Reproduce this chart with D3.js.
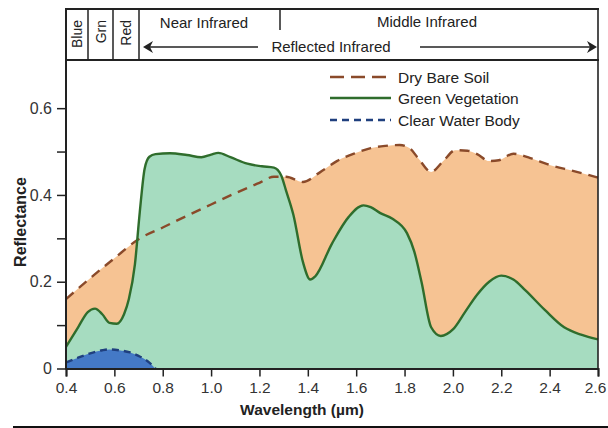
<!DOCTYPE html>
<html>
<head>
<meta charset="utf-8">
<script src="https://cdn.jsdelivr.net/npm/d3@7"></script>
<style>
  html, body { margin: 0; padding: 0; background: #fff; }
  svg { display: block; font-family: "Liberation Sans", Arial, sans-serif; }
</style>
</head>
<body>
<svg id="chart" width="608" height="428"></svg>
<script>
// ---- data ----
const soilX = [0.40,0.50,0.60,0.70,0.80,0.90,1.00,1.10,1.20,1.26,1.31,1.38,1.45,1.52,1.60,1.66,1.72,1.78,1.82,1.86,1.91,1.96,2.01,2.06,2.10,2.15,2.19,2.25,2.32,2.40,2.50,2.60];
const soilY = [0.160,0.208,0.254,0.298,0.325,0.352,0.378,0.404,0.428,0.442,0.442,0.430,0.452,0.478,0.497,0.508,0.513,0.515,0.508,0.482,0.453,0.478,0.503,0.502,0.494,0.478,0.480,0.495,0.485,0.469,0.455,0.440];

const vegX = [0.40,0.45,0.49,0.52,0.55,0.58,0.61,0.64,0.66,0.685,0.705,0.725,0.745,0.77,0.83,0.90,0.96,1.00,1.03,1.08,1.15,1.21,1.26,1.29,1.31,1.34,1.38,1.41,1.43,1.50,1.57,1.63,1.66,1.70,1.75,1.81,1.84,1.87,1.91,1.95,2.00,2.05,2.10,2.15,2.20,2.25,2.30,2.38,2.46,2.53,2.60];
const vegY = [0.050,0.095,0.130,0.138,0.125,0.105,0.103,0.125,0.160,0.240,0.360,0.460,0.488,0.494,0.496,0.492,0.487,0.493,0.497,0.487,0.472,0.466,0.463,0.445,0.410,0.355,0.245,0.205,0.212,0.288,0.350,0.376,0.372,0.358,0.345,0.312,0.270,0.200,0.095,0.075,0.090,0.130,0.170,0.200,0.214,0.205,0.180,0.135,0.095,0.078,0.067];

const waterX = [0.40,0.45,0.50,0.55,0.58,0.62,0.665,0.70,0.735,0.77];
const waterY = [0.014,0.025,0.035,0.042,0.044,0.042,0.037,0.029,0.018,0.0];

const xTicks = [0.4,0.6,0.8,1.0,1.2,1.4,1.6,1.8,2.0,2.2,2.4,2.6];
const yTicks = [0,0.1,0.2,0.3,0.4,0.5,0.6];
const yLabelTicks = [0,0.2,0.4,0.6];

const legendNames = ["Dry Bare Soil","Green Vegetation","Clear Water Body"];
const bandNames = ["Blue","Grn","Red"];

// ---- layout ----
const svg = d3.select("#chart");
const L = 66, R = 598, T = 60, B = 368.5;
const x = d3.scaleLinear().domain([0.4, 2.6]).range([L, R]);
const y = d3.scaleLinear().domain([0, 0.711]).range([B, T]);

const C = {
  soilFill: "#f6c393", vegFill: "#a6dcc0", waterFill: "#4479c6",
  soilLine: "#8a4a2a", vegLine: "#2f6d2c", waterLine: "#1f3f7e", ink: "#222"
};

function pts(xs, ys) { return xs.map((v, i) => [v, ys[i]]); }
const area = d3.area().x(d => x(d[0])).y0(y(0)).y1(d => y(d[1])).curve(d3.curveMonotoneX);
const line = d3.line().x(d => x(d[0])).y(d => y(d[1])).curve(d3.curveMonotoneX);

const soil = pts(soilX, soilY), veg = pts(vegX, vegY), water = pts(waterX, waterY);

svg.append("path").attr("d", area(soil)).attr("fill", C.soilFill);
svg.append("path").attr("d", area(veg)).attr("fill", C.vegFill);
svg.append("path").attr("d", area(water)).attr("fill", C.waterFill);

svg.append("path").attr("d", line(soil)).attr("fill", "none")
  .attr("stroke", C.soilLine).attr("stroke-width", 2.4).attr("stroke-dasharray", "10,7");
svg.append("path").attr("d", line(veg)).attr("fill", "none")
  .attr("stroke", C.vegLine).attr("stroke-width", 2.4);
svg.append("path").attr("d", line(water)).attr("fill", "none")
  .attr("stroke", C.waterLine).attr("stroke-width", 2.4).attr("stroke-dasharray", "7,5");

// ---- axes ----
const xAxis = d3.axisBottom(x).tickValues(xTicks).tickFormat(d3.format(".1f")).tickSize(8).tickPadding(5);
const gx = svg.append("g").attr("transform", `translate(0,${B})`).call(xAxis);
gx.select(".domain").attr("stroke", C.ink).attr("stroke-width", 2);
gx.selectAll(".tick line").attr("stroke", C.ink).attr("stroke-width", 1.5);
gx.selectAll(".tick text").attr("font-size", 15.5).attr("fill", "#333")
  .attr("font-family", "Liberation Sans, Arial, sans-serif");
gx.selectAll(".tick text").filter(d => d === 2.6).attr("dx", -3);

const yAxis = d3.axisLeft(y).tickValues(yTicks)
  .tickFormat(d => yLabelTicks.some(v => Math.abs(v - d) < 1e-9) ? (d === 0 ? "0" : d3.format(".1f")(d)) : "")
  .tickSize(9).tickPadding(5);
const gy = svg.append("g").attr("transform", `translate(${L},0)`).call(yAxis);
gy.select(".domain").remove();
gy.selectAll(".tick line").attr("stroke", C.ink).attr("stroke-width", 1.5);
gy.selectAll(".tick text").attr("font-size", 16).attr("fill", "#333")
  .attr("font-family", "Liberation Sans, Arial, sans-serif");

// frame lines
svg.append("line").attr("x1", L).attr("x2", L).attr("y1", 9).attr("y2", B + 1).attr("stroke", C.ink).attr("stroke-width", 2);
svg.append("line").attr("x1", R).attr("x2", R).attr("y1", 9).attr("y2", B + 1).attr("stroke", C.ink).attr("stroke-width", 1.6);
svg.append("line").attr("x1", L - 1).attr("x2", R + 1).attr("y1", 9).attr("y2", 9).attr("stroke", C.ink).attr("stroke-width", 2);
svg.append("line").attr("x1", L - 1).attr("x2", R + 1).attr("y1", T).attr("y2", T).attr("stroke", C.ink).attr("stroke-width", 2);

// header separators
[88, 113, 139].forEach(px => {
  svg.append("line").attr("x1", px).attr("x2", px).attr("y1", 9).attr("y2", T).attr("stroke", C.ink).attr("stroke-width", 1.5);
});
svg.append("line").attr("x1", 280).attr("x2", 280).attr("y1", 9).attr("y2", 30).attr("stroke", C.ink).attr("stroke-width", 1.5);

// rotated band names
const bandCenters = [77, 100.5, 126];
bandNames.forEach((n, i) => {
  svg.append("text").attr("transform", `translate(${bandCenters[i] + 5},20) rotate(-90)`)
    .attr("text-anchor", "end").attr("font-size", 14).attr("fill", C.ink).text(n);
});

// header texts
svg.append("text").attr("x", 204).attr("y", 28).attr("text-anchor", "middle").attr("font-size", 15).attr("fill", C.ink).text("Near Infrared");
svg.append("text").attr("x", 427).attr("y", 27).attr("text-anchor", "middle").attr("font-size", 15).attr("fill", C.ink).text("Middle Infrared");
svg.append("text").attr("x", 331).attr("y", 52).attr("text-anchor", "middle").attr("font-size", 15).attr("fill", C.ink).text("Reflected Infrared");

// arrows
const ay = 47;
svg.append("line").attr("x1", 146).attr("x2", 258).attr("y1", ay).attr("y2", ay).attr("stroke", C.ink).attr("stroke-width", 1.6);
svg.append("path").attr("d", `M143,${ay} L153,${ay - 6} L150,${ay} L153,${ay + 6} Z`).attr("fill", C.ink);
svg.append("line").attr("x1", 420).attr("x2", 594).attr("y1", ay).attr("y2", ay).attr("stroke", C.ink).attr("stroke-width", 1.6);
svg.append("path").attr("d", `M597,${ay} L587,${ay - 6} L590,${ay} L587,${ay + 6} Z`).attr("fill", C.ink);

// legend
const legY = [77, 98, 120];
const legStyles = [
  { stroke: C.soilLine, dash: "14,7" },
  { stroke: C.vegLine, dash: null },
  { stroke: C.waterLine, dash: "7,5" }
];
legendNames.forEach((n, i) => {
  const ln = svg.append("line").attr("x1", 330).attr("x2", 391).attr("y1", legY[i]).attr("y2", legY[i])
    .attr("stroke", legStyles[i].stroke).attr("stroke-width", 2.4);
  if (legStyles[i].dash) ln.attr("stroke-dasharray", legStyles[i].dash);
  svg.append("text").attr("x", 398).attr("y", legY[i] + 5.5).attr("font-size", 15.5).attr("fill", C.ink).text(n);
});

// axis titles
svg.append("text").attr("x", 302).attr("y", 415).attr("text-anchor", "middle")
  .attr("font-size", 15.5).attr("font-weight", "bold").attr("fill", C.ink).text("Wavelength (µm)");
svg.append("text").attr("transform", "translate(26,222) rotate(-90)").attr("text-anchor", "middle")
  .attr("font-size", 16).attr("font-weight", "bold").attr("fill", C.ink).text("Reflectance");

// bottom rule
svg.append("line").attr("x1", 13).attr("x2", 608).attr("y1", 427).attr("y2", 427).attr("stroke", "#111").attr("stroke-width", 2);
</script>
</body>
</html>
